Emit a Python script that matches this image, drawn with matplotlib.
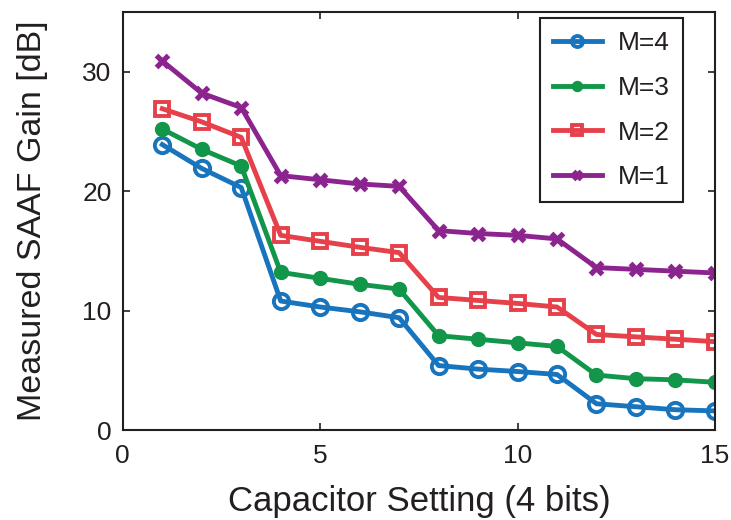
import matplotlib
matplotlib.use("Agg")
import matplotlib.pyplot as plt

plt.rcParams['font.family'] = ['Liberation Sans', 'DejaVu Sans']
ink = '#231f20'
plt.rcParams['text.color'] = ink
plt.rcParams['axes.labelcolor'] = ink
plt.rcParams['xtick.color'] = ink
plt.rcParams['ytick.color'] = ink

setting = list(range(1, 16))
gain_m4 = [23.9, 21.9, 20.3, 10.8, 10.3, 9.9, 9.4, 5.4, 5.1, 4.9, 4.65, 2.2, 1.95, 1.7, 1.6]
gain_m3 = [25.2, 23.5, 22.1, 13.2, 12.7, 12.2, 11.8, 7.9, 7.6, 7.3, 7.0, 4.6, 4.3, 4.2, 4.0]
gain_m2 = [26.9, 25.8, 24.5, 16.3, 15.8, 15.3, 14.85, 11.1, 10.85, 10.6, 10.3, 8.0, 7.8, 7.6, 7.4]
gain_m1 = [30.9, 28.2, 27.0, 21.3, 20.95, 20.6, 20.4, 16.7, 16.45, 16.3, 16.0, 13.6, 13.45, 13.3, 13.15]

labels = ['M=4', 'M=3', 'M=2', 'M=1']
colors = ['#1774bd', '#11964a', '#e6414b', '#8c2490']

fig = plt.figure(figsize=(7.31, 5.20), dpi=100)
ax = fig.add_axes([0.168, 0.173, 0.810, 0.804])

lw = 3.5
ax.plot(setting, gain_m4, color=colors[0], lw=lw, marker='o', ms=11,
        mfc='none', mec=colors[0], mew=2.8, label=labels[0])
ax.plot(setting, gain_m3, color=colors[1], lw=lw, marker='o', ms=10,
        mfc=colors[1], mec=colors[1], label=labels[1])
ax.plot(setting, gain_m2, color=colors[2], lw=lw, marker='s', ms=10,
        mfc='none', mec=colors[2], mew=2.8, label=labels[2])
ax.plot(setting, gain_m1, color=colors[3], lw=lw, marker='x', ms=8,
        mec=colors[3], mew=3.8, label=labels[3])

ax.set_xlim(0, 15)
ax.set_ylim(0, 35)
ax.set_xticks([0, 5, 10, 15])
ax.set_yticks([0, 10, 20, 30])
ax.tick_params(direction='in', length=5, width=1.2, labelsize=19,
               top=True, right=True)
ax.tick_params(axis='x', pad=10)
ax.tick_params(axis='y', pad=8)
for s in ax.spines.values():
    s.set_linewidth(1.5)
    s.set_color(ink)

ax.set_xlabel('Capacitor Setting (4 bits)', fontsize=25, labelpad=12)
ax.set_ylabel('Measured SAAF Gain [dB]', fontsize=24.5, labelpad=25)

leg = ax.legend(loc='upper left', bbox_to_anchor=(0.704, 0.985), fontsize=19,
                markerscale=0.72, handlelength=1.85, handletextpad=0.6,
                labelspacing=0.78, borderpad=0.5, borderaxespad=0,
                frameon=True, fancybox=False, framealpha=1)
leg.get_frame().set_edgecolor(ink)
leg.get_frame().set_linewidth(1.5)

fig.savefig('out.png', dpi=100)
